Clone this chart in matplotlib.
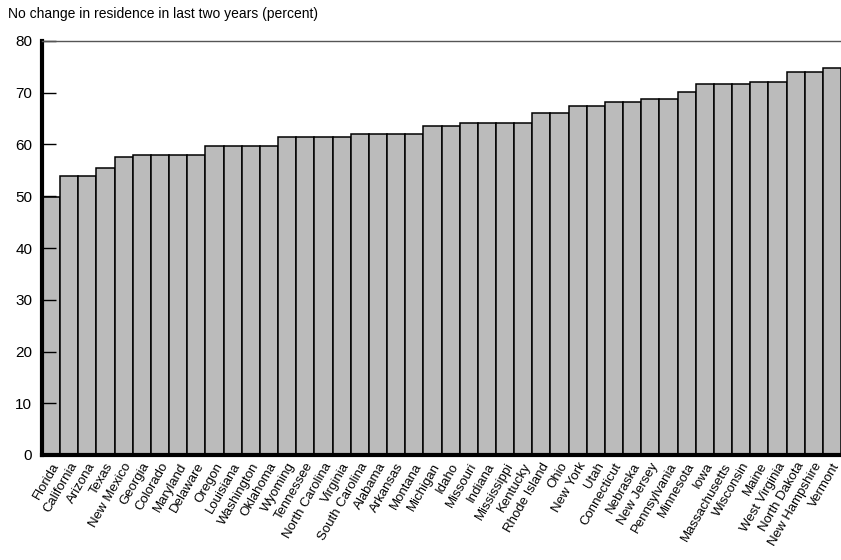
import matplotlib
matplotlib.use('Agg')
import matplotlib.pyplot as plt
import numpy as np

plt.rcParams['font.family'] = ['Liberation Sans', 'DejaVu Sans']

states = ['Florida', 'California', 'Arizona', 'Texas', 'New Mexico', 'Georgia',
          'Colorado', 'Maryland', 'Delaware', 'Oregon', 'Louisiana', 'Washington',
          'Oklahoma', 'Wyoming', 'Tennessee', 'North Carolina', 'Virginia',
          'South Carolina', 'Alabama', 'Arkansas', 'Montana', 'Michigan', 'Idaho',
          'Missouri', 'Indiana', 'Mississippi', 'Kentucky', 'Rhode Island', 'Ohio',
          'New York', 'Utah', 'Connecticut', 'Nebraska', 'New Jersey',
          'Pennsylvania', 'Minnesota', 'Iowa', 'Massachusetts', 'Wisconsin',
          'Maine', 'West Virginia', 'North Dakota', 'New Hampshire', 'Vermont']
no_change = [49.9, 54.0, 54.0, 55.4, 57.5, 58.0,
             58.0, 58.0, 58.0, 59.8, 59.8, 59.8,
             59.8, 61.4, 61.4, 61.4, 61.4,
             62.1, 62.1, 62.1, 62.1, 63.5, 63.5,
             64.1, 64.1, 64.1, 64.1, 66.1, 66.1,
             67.4, 67.4, 68.2, 68.2, 68.8,
             68.8, 70.1, 71.6, 71.6, 71.6,
             72.0, 72.0, 74.1, 74.1, 74.8]
yticks = [0, 10, 20, 30, 40, 50, 60, 70, 80]

fig = plt.figure(figsize=(8.41, 5.60), dpi=100)
ax = fig.add_axes([42 / 841, 1 - 455 / 560, 1 - 42 / 841, (455 - 41) / 560])

x = np.arange(len(states))
ax.bar(x, no_change, width=1.0, color='#bbbbbb', edgecolor='black', linewidth=1.1)

ax.set_xlim(-0.5, len(states) - 0.5)
ax.set_ylim(0, 80)
ax.set_yticks(yticks)
ax.tick_params(axis='y', direction='in', length=10, width=1, labelsize=11, pad=7)
ax.set_xticks(x)
ax.set_xticklabels(states, rotation=60, ha='right', rotation_mode='anchor', fontsize=9.5)
ax.tick_params(axis='x', length=0, pad=4)

ax.spines['left'].set_linewidth(3)
ax.spines['bottom'].set_linewidth(3)
ax.spines['top'].set_color('#555555')
ax.spines['top'].set_linewidth(1)
ax.spines['right'].set_visible(False)

fig.text(8 / 841, 1 - 14 / 560, 'No change in residence in last two years (percent)',
         fontsize=10, va='center', ha='left')

fig.savefig('out.png', dpi=100)
